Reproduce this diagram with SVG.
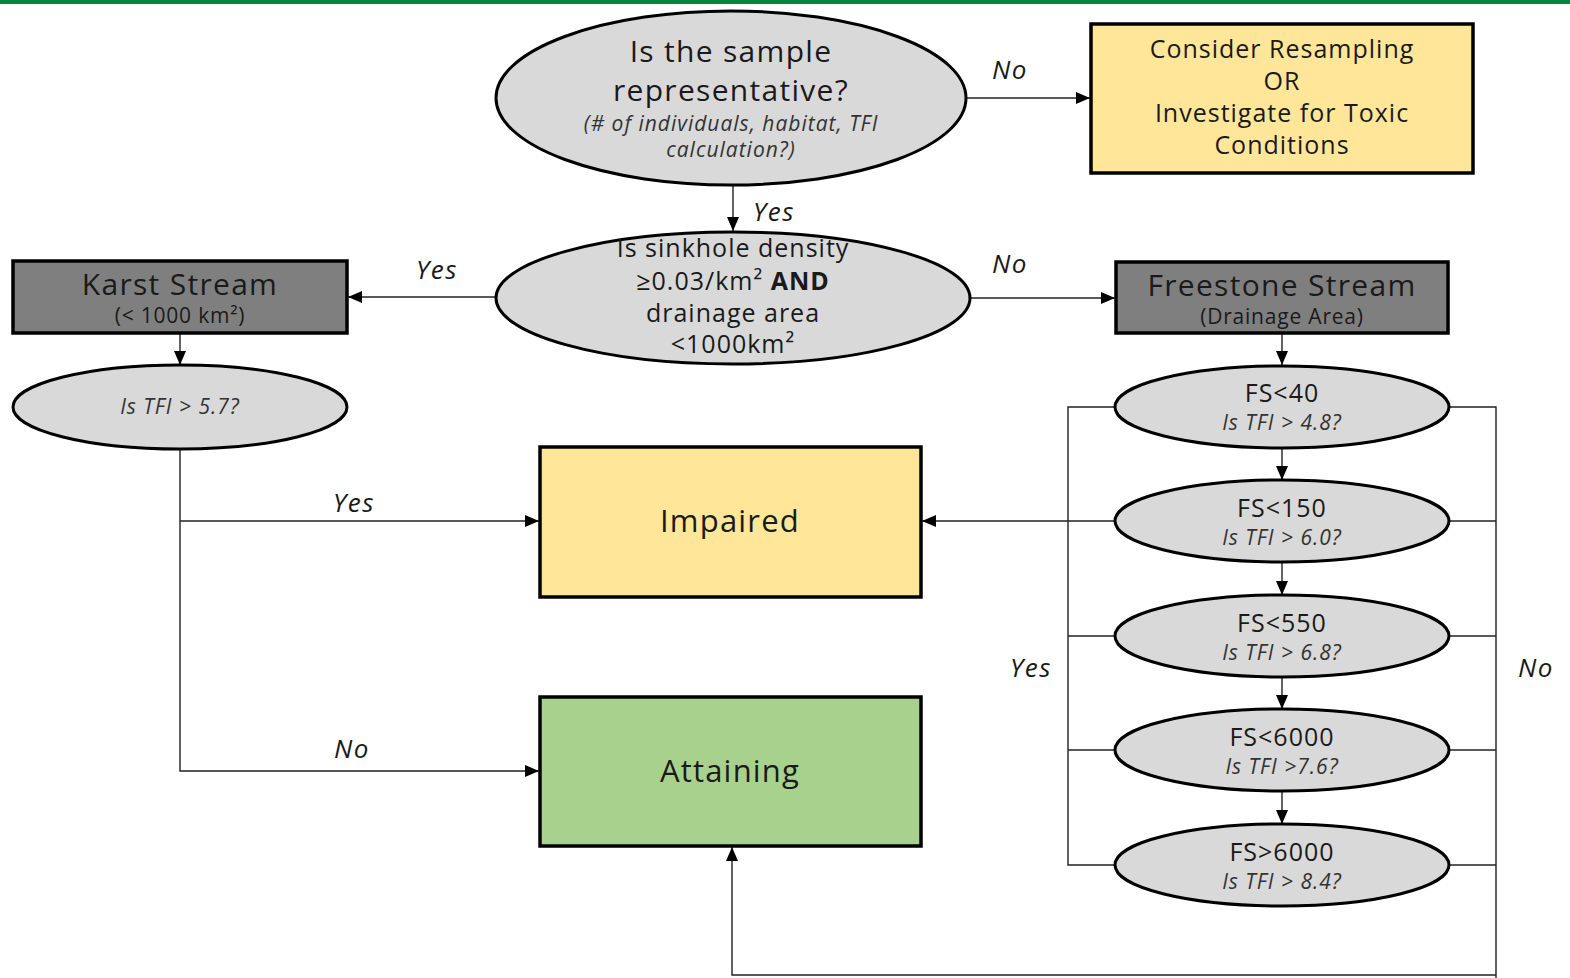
<svg xmlns="http://www.w3.org/2000/svg" width="1570" height="978" viewBox="0 0 1570 978">
<style>
text{font-family:"Open Sans","Liberation Sans",sans-serif;fill:#1a1a1a;text-anchor:middle}
.el{fill:#d9d9d9;stroke:#000;stroke-width:3}
.dk{fill:#7f7f7f;stroke:#000;stroke-width:3.5}
.yl{fill:#ffe699;stroke:#000;stroke-width:3.5}
.gr{fill:#a9d18e;stroke:#000;stroke-width:3.5}
.c{fill:none;stroke:#222;stroke-width:1.4}
.lb{font-style:italic;font-size:26px;letter-spacing:1.5px}
.it{font-style:italic;font-size:21px;letter-spacing:1px;fill:#333}
.fs{font-size:25px;letter-spacing:1px}
.big{font-size:30px;letter-spacing:1.3px}
.sub{font-size:21px;letter-spacing:0.8px}
</style>
<defs>
<marker id="ah" viewBox="0 0 14 12" refX="14" refY="6" markerWidth="14" markerHeight="12" markerUnits="userSpaceOnUse" orient="auto">
<path d="M0,0 L14,6 L0,12 Z" fill="#000"/>
</marker>
</defs>
<rect x="0" y="0" width="1570" height="4" fill="#07843e"/>
<g id="connectors">
<line class="c" x1="966" y1="98" x2="1090" y2="98" marker-end="url(#ah)"/>
<line class="c" x1="733" y1="185" x2="733" y2="231" marker-end="url(#ah)"/>
<line class="c" x1="496" y1="297" x2="348" y2="297" marker-end="url(#ah)"/>
<line class="c" x1="970" y1="298" x2="1115" y2="298" marker-end="url(#ah)"/>
<line class="c" x1="180" y1="334" x2="180" y2="365" marker-end="url(#ah)"/>
<line class="c" x1="1282" y1="334" x2="1282" y2="365" marker-end="url(#ah)"/>
<polyline class="c" points="180,449 180,771 539,771" marker-end="url(#ah)"/>
<line class="c" x1="180" y1="521" x2="539" y2="521" marker-end="url(#ah)"/>
<line class="c" x1="1282" y1="448" x2="1282" y2="480" marker-end="url(#ah)"/>
<line class="c" x1="1282" y1="562" x2="1282" y2="595" marker-end="url(#ah)"/>
<line class="c" x1="1282" y1="677" x2="1282" y2="709" marker-end="url(#ah)"/>
<line class="c" x1="1282" y1="791" x2="1282" y2="824" marker-end="url(#ah)"/>
<polyline class="c" points="1115,407 1068,407 1068,865 1115,865"/>
<line class="c" x1="1068" y1="636" x2="1115" y2="636"/>
<line class="c" x1="1068" y1="750" x2="1115" y2="750"/>
<line class="c" x1="1115" y1="521" x2="922" y2="521" marker-end="url(#ah)"/>
<polyline class="c" points="1449,407 1496,407 1496,978"/>
<line class="c" x1="1449" y1="521" x2="1496" y2="521"/>
<line class="c" x1="1449" y1="636" x2="1496" y2="636"/>
<line class="c" x1="1449" y1="750" x2="1496" y2="750"/>
<line class="c" x1="1449" y1="865" x2="1496" y2="865"/>
<polyline class="c" points="1496,975 732,975 732,847" stroke="#777" marker-end="url(#ah)"/>
<text class="lb" x="1010" y="79">No</text>
<text class="lb" x="774" y="221">Yes</text>
<text class="lb" x="437" y="279">Yes</text>
<text class="lb" x="1010" y="273">No</text>
<text class="lb" x="354" y="512">Yes</text>
<text class="lb" x="352" y="758">No</text>
<text class="lb" x="1031" y="677">Yes</text>
<text class="lb" x="1536" y="677">No</text>
</g>
<g id="representative">
<ellipse class="el" cx="731" cy="98" rx="235" ry="87"/>
<text class="big" x="731" y="62">Is the sample</text>
<text class="big" x="731" y="101">representative?</text>
<text class="it" x="731" y="131">(# of individuals, habitat, TFI</text>
<text class="it" x="731" y="157">calculation?)</text>
</g>
<g id="resample">
<rect class="yl" x="1091" y="24" width="382" height="149"/>
<text class="fs" x="1282" y="58">Consider Resampling</text>
<text class="fs" x="1282" y="90">OR</text>
<text class="fs" x="1282" y="122">Investigate for Toxic</text>
<text class="fs" x="1282" y="154">Conditions</text>
</g>
<g id="sinkhole">
<ellipse class="el" cx="733" cy="298" rx="237" ry="66"/>
<text class="fs" x="733" y="257">Is sinkhole density</text>
<text class="fs" x="733" y="290">≥0.03/km²  <tspan font-weight="bold">AND</tspan></text>
<text class="fs" x="733" y="322">drainage area</text>
<text class="fs" x="733" y="353">&lt;1000km²</text>
</g>
<g id="karst">
<rect class="dk" x="13" y="261" width="334" height="72"/>
<text class="big" x="180" y="295">Karst Stream</text>
<text class="sub" x="180" y="323">(&lt; 1000 km²)</text>
</g>
<g id="freestone">
<rect class="dk" x="1116" y="262" width="332" height="71"/>
<text class="big" x="1282" y="296">Freestone Stream</text>
<text class="sub" x="1282" y="324">(Drainage Area)</text>
</g>
<g id="karst-tfi">
<ellipse class="el" cx="180" cy="407" rx="167" ry="42"/>
<text class="it" x="180" y="414">Is TFI &gt; 5.7?</text>
</g>
<g id="impaired">
<rect class="yl" x="540" y="447" width="381" height="150"/>
<text x="730" y="532" font-size="31" letter-spacing="1.2">Impaired</text>
</g>
<g id="attaining">
<rect class="gr" x="540" y="697" width="381" height="149"/>
<text x="730" y="782" font-size="31" letter-spacing="1.2">Attaining</text>
</g>
<g id="fs40">
<ellipse class="el" cx="1282" cy="407" rx="167" ry="41"/>
<text class="fs" x="1282" y="402">FS&lt;40</text>
<text class="it" x="1282" y="430">Is TFI &gt; 4.8?</text>
</g>
<g id="fs150">
<ellipse class="el" cx="1282" cy="521" rx="167" ry="41"/>
<text class="fs" x="1282" y="517">FS&lt;150</text>
<text class="it" x="1282" y="545">Is TFI &gt; 6.0?</text>
</g>
<g id="fs550">
<ellipse class="el" cx="1282" cy="636" rx="167" ry="41"/>
<text class="fs" x="1282" y="632">FS&lt;550</text>
<text class="it" x="1282" y="660">Is TFI &gt; 6.8?</text>
</g>
<g id="fs6000">
<ellipse class="el" cx="1282" cy="750" rx="167" ry="41"/>
<text class="fs" x="1282" y="746">FS&lt;6000</text>
<text class="it" x="1282" y="774">Is TFI &gt;7.6?</text>
</g>
<g id="fsover6000">
<ellipse class="el" cx="1282" cy="865" rx="167" ry="41"/>
<text class="fs" x="1282" y="861">FS&gt;6000</text>
<text class="it" x="1282" y="889">Is TFI &gt; 8.4?</text>
</g>
</svg>
